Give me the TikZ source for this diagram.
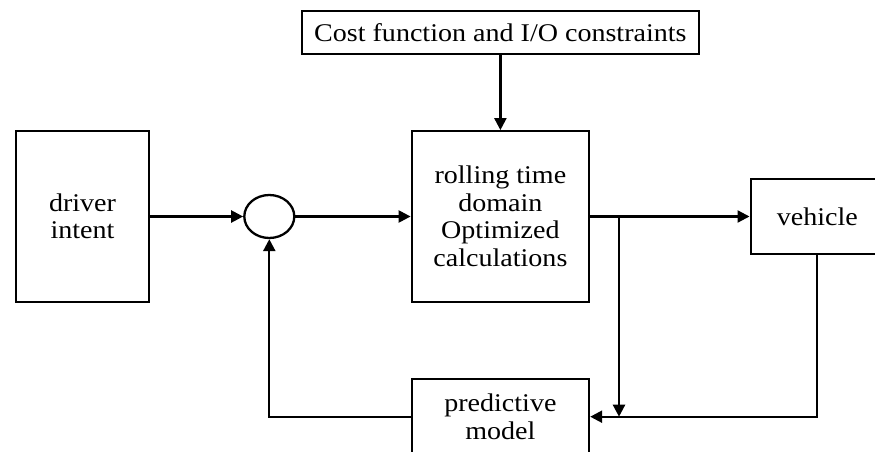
\documentclass[tikz,border=0pt]{standalone}
\usepackage{fontspec}
\setmainfont[FakeStretch=1.1]{Liberation Serif}
\usetikzlibrary{arrows.meta,shapes.geometric}

\tikzset{
  blk/.style={draw, line width=2.3pt, inner sep=0pt, align=center,
              font=\fontsize{25.5}{27.5}\selectfont},
  sumnode/.style={draw, ellipse, line width=2.3pt, inner sep=0pt,
                  minimum width=50pt, minimum height=43pt},
  arr/.style={line width=2.3pt, -{Triangle[length=12pt,width=12pt]}},
  wire/.style={line width=2.3pt}
}

\begin{document}
\begin{tikzpicture}[x=1pt,y=1pt]
  \path[use as bounding box] (0,0) rectangle (875,451);
  \clip (0,0) rectangle (875,451);

  % blocks
  \node[blk, minimum width=397pt, minimum height=43pt] (cost) at (500.4,418.5)
    {Cost function and I/O constraints};
  \node[blk, minimum width=133pt, minimum height=170.5pt] (driver) at (82.5,234.5)
    {driver\\intent};
  \node[sumnode] (sum) at (269.3,234.5) {};
  \node[blk, minimum width=177.3pt, minimum height=170.5pt] (roll) at (500.4,234.5)
    {rolling time\\domain\\Optimized\\calculations};
  \node[blk, minimum width=133.3pt, minimum height=75.6pt] (veh) at (817.3,234.5)
    {vehicle};
  \node[blk, minimum width=177.3pt, minimum height=75.6pt] (pred) at (500.4,34.3)
    {predictive\\model};

  % forward path
  \draw[arr] (cost.south) -- (roll.north);
  \draw[arr] (driver.east) -- (sum.west);
  \draw[arr] (sum.east) -- (roll.west);
  \draw[arr] (roll.east) -- (veh.west);

  % feedback paths
  \coordinate (br) at (619,234.5);
  \draw[arr] (br) -- (br |- pred.east);
  \draw[arr] (veh.south) |- (pred.east);
  \draw[arr] (pred.west) -| (sum.south);
\end{tikzpicture}
\end{document}
